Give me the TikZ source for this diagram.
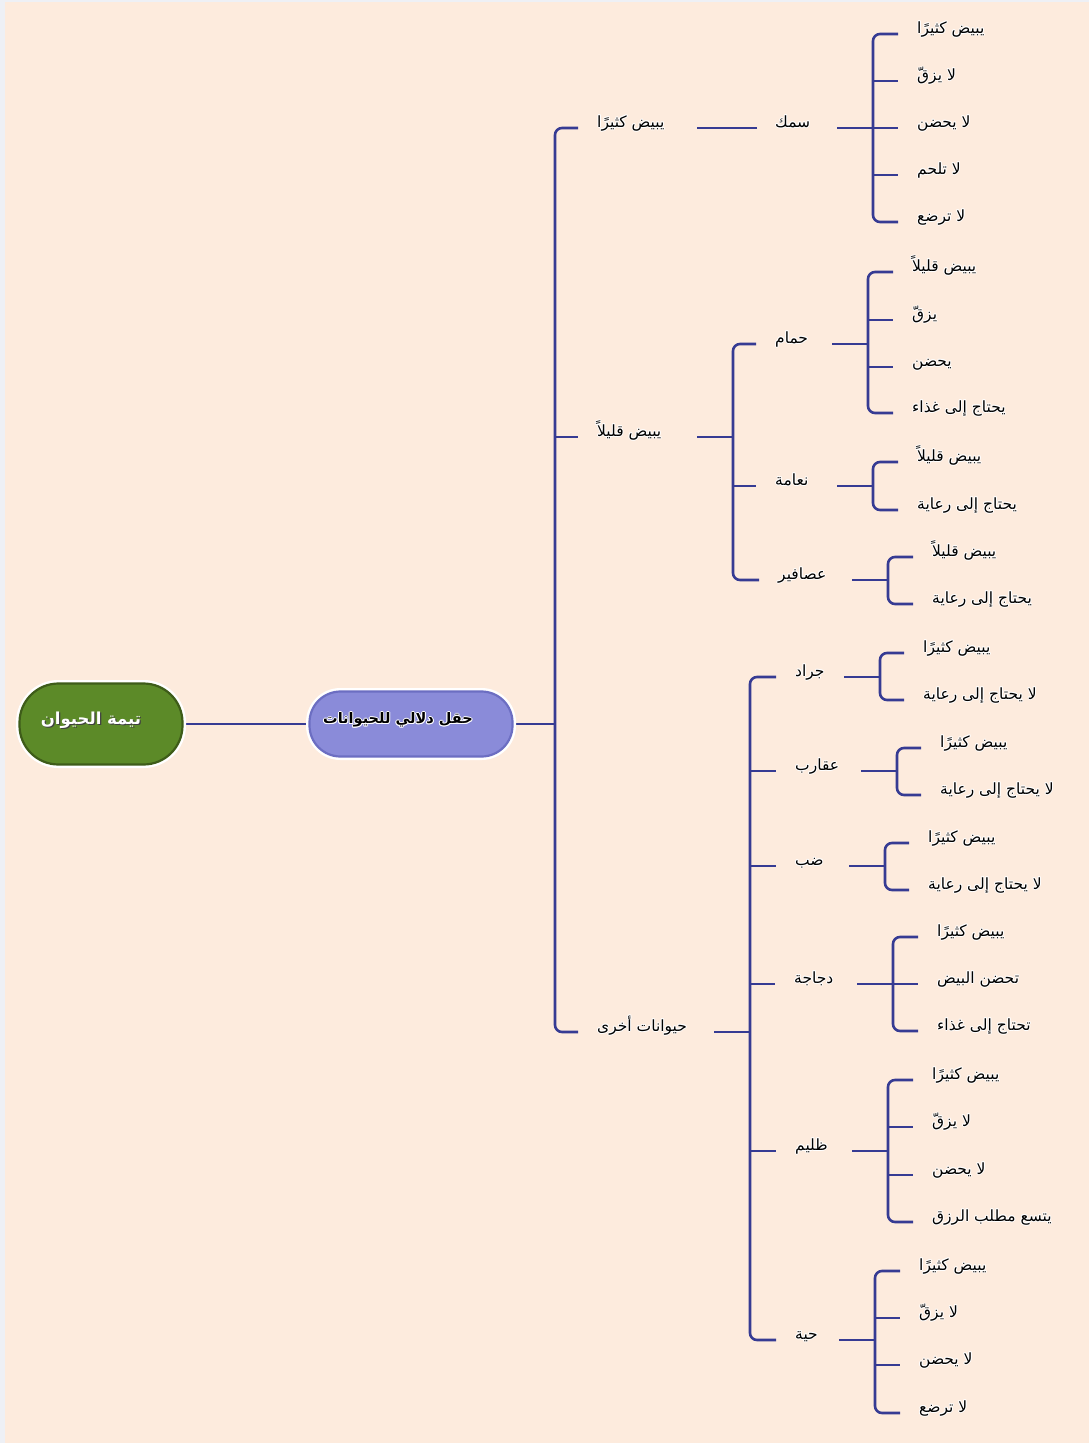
\documentclass[tikz,border=0pt]{standalone}
\usepackage{fontspec}
\newfontfamily\arabicfont[Script=Arabic]{DejaVu Sans}
\TeXXeTstate=1
\definecolor{paper}{HTML}{FDEBDD}
\definecolor{frame}{HTML}{EEF0F5}
\definecolor{ink}{HTML}{363B93}
\definecolor{leaf}{HTML}{5C8A28}
\definecolor{leafrim}{HTML}{3E5C19}
\definecolor{lav}{HTML}{8A8BD9}
\definecolor{lavrim}{HTML}{6C6EC2}
\pgfdeclarelayer{back}
\pgfdeclarelayer{lines}
\pgfsetlayers{back,lines,main}

% text with a soft white outline
\newcommand\glowing[2][white]{%
  \makebox[0pt][l]{\color{#1}\hspace*{1pt}#2}%
  \makebox[0pt][l]{\color{#1}\hspace*{-1pt}#2}%
  \makebox[0pt][l]{\color{#1}\raisebox{1pt}{#2}}%
  \makebox[0pt][l]{\color{#1}\raisebox{-1pt}{#2}}%
  \makebox[0pt][l]{\color{#1}\hspace*{0.7pt}\raisebox{0.7pt}{#2}}%
  \makebox[0pt][l]{\color{#1}\hspace*{-0.7pt}\raisebox{0.7pt}{#2}}%
  \makebox[0pt][l]{\color{#1}\hspace*{0.7pt}\raisebox{-0.7pt}{#2}}%
  \makebox[0pt][l]{\color{#1}\hspace*{-0.7pt}\raisebox{-0.7pt}{#2}}%
  #2}
\newcommand\lbl[1]{\glowing{\beginR #1\endR}}
\newcommand\shadowed[1]{%
  \makebox[0pt][l]{\color{black!75}\hspace*{1.3pt}\raisebox{-1.3pt}{#1}}%
  \color{white}#1}

\begin{document}
\begin{tikzpicture}[x=1pt,y=-1pt,
  lab/.style={font=\arabicfont\fontsize{15.5}{18}\selectfont, inner sep=0pt,
    anchor=west, text height=7pt, text depth=9pt},
  link/.style={draw=ink, line width=2.6pt},
  fork/.style={link, rounded corners=7pt},
  pill/.style={rectangle, line width=2.2pt,
    preaction={draw=white, line width=7pt}}]

\begin{pgfonlayer}{back}
  \fill[frame] (0,0) rectangle (1089,1443);
  \fill[paper] (5,2) rectangle (1089,1443);
\end{pgfonlayer}
\useasboundingbox (0,0) rectangle (1089,1443);

% central nodes
\node[pill, fill=leaf, draw=leafrim, minimum width=163pt, minimum height=81pt,
  rounded corners=39pt] (root) at (101,724) {};
\node[font=\arabicfont\bfseries\fontsize{16.5}{19}\selectfont, inner sep=0pt]
  (roottext) at (91,721) {\shadowed{\beginR تيمة الحيوان\endR}};
\node[pill, fill=lav, draw=lavrim, minimum width=203pt, minimum height=65pt,
  rounded corners=31pt] (fld) at (411,724) {};
\node[font=\arabicfont\bfseries\fontsize{14.5}{17}\selectfont, inner sep=0pt]
  (fldtext) at (398,720) {\glowing{\beginR حقل دلالي للحيوانات\endR}};

% junction points
\coordinate (J1) at (555,724);
\coordinate (Jb) at (733,437);
\coordinate (Jc) at (750,1032);
\coordinate (Jsm) at (873,128);
\coordinate (Jhm) at (868,344);
\coordinate (Jnm) at (873,486);
\coordinate (Jas) at (888,580);
\coordinate (Jjr) at (880,677);
\coordinate (Jaq) at (897,771);
\coordinate (Jdb) at (885,866);
\coordinate (Jdj) at (893,984);
\coordinate (Jzl) at (888,1151);
\coordinate (Jhy) at (875,1340);

% first level
\node[lab] (A) at (597,128) {\lbl{يبيض كثيرًا}};
\node[lab] (B) at (597,437) {\lbl{يبيض قليلاً}};
\node[lab] (C) at (597,1032) {\lbl{حيوانات أخرى}};

% fish
\node[lab] (sm) at (775,128) {\lbl{سمك}};
\node[lab] (sm1) at (917,34) {\lbl{يبيض كثيرًا}};
\node[lab] (sm2) at (917,81) {\lbl{لا يزقّ}};
\node[lab] (sm3) at (917,128) {\lbl{لا يحضن}};
\node[lab] (sm4) at (917,175) {\lbl{لا تلحم}};
\node[lab] (sm5) at (917,222) {\lbl{لا ترضع}};

% birds laying few eggs
\node[lab] (hm) at (775,344) {\lbl{حمام}};
\node[lab] (hm1) at (912,272) {\lbl{يبيض قليلاً}};
\node[lab] (hm2) at (912,320) {\lbl{يزقّ}};
\node[lab] (hm3) at (912,367) {\lbl{يحضن}};
\node[lab] (hm4) at (912,413) {\lbl{يحتاج إلى غذاء}};
\node[lab] (nm) at (775,486) {\lbl{نعامة}};
\node[lab] (nm1) at (917,462) {\lbl{يبيض قليلاً}};
\node[lab] (nm2) at (917,510) {\lbl{يحتاج إلى رعاية}};
\node[lab] (as) at (778,580) {\lbl{عصافير}};
\node[lab] (as1) at (932,557) {\lbl{يبيض قليلاً}};
\node[lab] (as2) at (932,604) {\lbl{يحتاج إلى رعاية}};

% other animals
\node[lab] (jr) at (795,677) {\lbl{جراد}};
\node[lab] (jr1) at (923,653) {\lbl{يبيض كثيرًا}};
\node[lab] (jr2) at (923,700) {\lbl{لا يحتاج إلى رعاية}};
\node[lab] (aq) at (795,771) {\lbl{عقارب}};
\node[lab] (aq1) at (940,748) {\lbl{يبيض كثيرًا}};
\node[lab] (aq2) at (940,795) {\lbl{لا يحتاج إلى رعاية}};
\node[lab] (db) at (795,866) {\lbl{ضب}};
\node[lab] (db1) at (928,843) {\lbl{يبيض كثيرًا}};
\node[lab] (db2) at (928,890) {\lbl{لا يحتاج إلى رعاية}};
\node[lab] (dj) at (794,984) {\lbl{دجاجة}};
\node[lab] (dj1) at (937,937) {\lbl{يبيض كثيرًا}};
\node[lab] (dj2) at (937,984) {\lbl{تحضن البيض}};
\node[lab] (dj3) at (937,1031) {\lbl{تحتاج إلى غذاء}};
\node[lab] (zl) at (795,1151) {\lbl{ظليم}};
\node[lab] (zl1) at (932,1080) {\lbl{يبيض كثيرًا}};
\node[lab] (zl2) at (932,1127) {\lbl{لا يزقّ}};
\node[lab] (zl3) at (932,1175) {\lbl{لا يحضن}};
\node[lab] (zl4) at (932,1222) {\lbl{يتسع مطلب الرزق}};
\node[lab] (hy) at (795,1340) {\lbl{حية}};
\node[lab] (hy1) at (919,1271) {\lbl{يبيض كثيرًا}};
\node[lab] (hy2) at (919,1318) {\lbl{لا يزقّ}};
\node[lab] (hy3) at (919,1365) {\lbl{لا يحضن}};
\node[lab] (hy4) at (919,1413) {\lbl{لا ترضع}};

\begin{pgfonlayer}{lines}
  \draw[link] (root.east) -- (fld.west);
  \draw[link] (fld.east) -- (J1);
  \draw[fork] ([xshift=-19pt]A.west) -| (J1) |- ([xshift=-19pt]C.west);
  \draw[link] (J1 |- B.west) -- ([xshift=-19pt]B.west);

  \draw[link] ([xshift=-18pt]sm.west) -- ++(-60,0);

  % one fork per parent: feed line, outer brackets, inner stubs
  \foreach \j/\first/\last/\mids in {
      Jb/hm/as/nm,
      Jc/jr/hy/{aq,db,dj,zl},
      Jsm/sm1/sm5/{sm2,sm3,sm4},
      Jhm/hm1/hm4/{hm2,hm3},
      Jnm/nm1/nm2/{},
      Jas/as1/as2/{},
      Jjr/jr1/jr2/{},
      Jaq/aq1/aq2/{},
      Jdb/db1/db2/{},
      Jdj/dj1/dj3/{dj2},
      Jzl/zl1/zl4/{zl2,zl3},
      Jhy/hy1/hy4/{hy2,hy3}} {
    \draw[link] (\j) -- ++(-36,0);
    \draw[fork] ([xshift=-19pt]\first.west) -| (\j) |- ([xshift=-19pt]\last.west);
    \foreach \m in \mids {
      \draw[link] (\j |- \m.west) -- ([xshift=-19pt]\m.west);
    }
  }
\end{pgfonlayer}
\end{tikzpicture}
\end{document}
